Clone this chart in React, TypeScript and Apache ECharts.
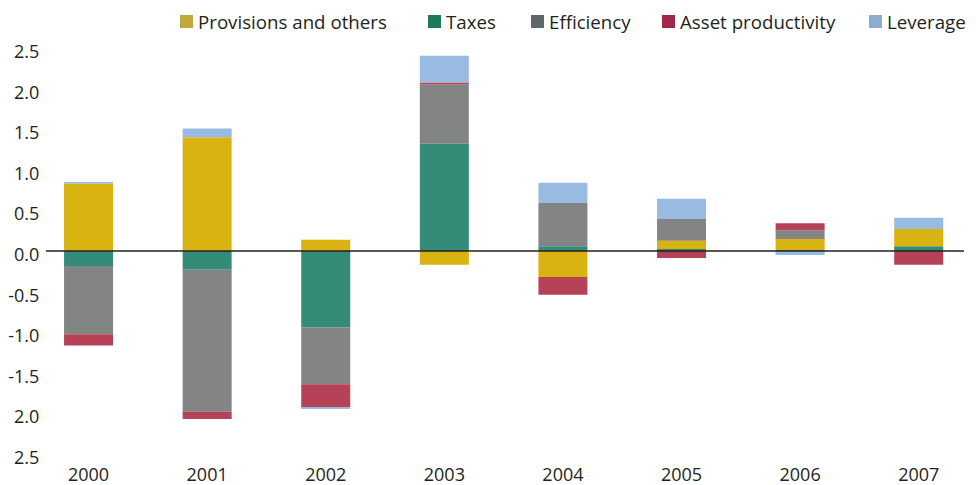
import React, { useEffect, useRef } from "react";
import * as echarts from "echarts";

const years = ["2000", "2001", "2002", "2003", "2004", "2005", "2006", "2007"];
const provisions = [0.83, 1.4, 0.14, -0.17, -0.32, 0.1, 0.135, 0.21];
const taxes = [-0.185, -0.23, -0.94, 1.32, 0.06, 0.025, 0.012, 0.06];
const efficiency = [-0.84, -1.75, -0.7, 0.73, 0.53, 0.27, 0.11, 0];
const assetProductivity = [-0.14, -0.09, -0.28, 0.025, -0.22, -0.086, 0.086, -0.17];
const leverage = [0.02, 0.11, -0.025, 0.33, 0.25, 0.25, -0.05, 0.14];

const FONT = "'Open Sans', sans-serif";
const TXT = "#231F20";

export default function App() {
  const ref = useRef<HTMLDivElement>(null);
  useEffect(() => {
    if (!ref.current) return;
    const chart = echarts.init(ref.current, undefined, { renderer: "svg" });
    const mk = (name: string, data: number[], color: string) => ({
      name,
      type: "bar",
      stack: "total",
      data,
      barWidth: 49,
      itemStyle: { color },
    });
    const legendItem = (name: string, left: number, color: string) => ({
      data: [{ name, itemStyle: { color } }],
      left,
      top: 12,
      padding: 0,
      itemWidth: 13,
      itemHeight: 13,
      icon: "rect",
      selectedMode: false,
      textStyle: { fontFamily: FONT, fontSize: 18.7, color: TXT, padding: [0, 0, 0, 0] },
    });
    chart.setOption({
      animation: false,
      textStyle: { fontFamily: FONT },
      grid: { left: 29.25, right: 0, top: 48, bottom: 31, containLabel: false },
      legend: [
        legendItem("Provisions and others", 180, "#C3A83B"),
        legendItem("Taxes", 428, "#1F7A5C"),
        legendItem("Efficiency", 531, "#5F6868"),
        legendItem("Asset productivity", 662, "#A0284A"),
        legendItem("Leverage", 869, "#8DADD0"),
      ],
      xAxis: {
        type: "category",
        data: years,
        axisLine: { show: false },
        axisTick: { show: false },
        position: "bottom",
        axisLabel: { fontSize: 18, color: TXT, margin: 11, lineHeight: 18, fontFamily: FONT },
      },
      yAxis: {
        type: "value",
        min: -2.5,
        max: 2.5,
        interval: 0.5,
        offset: -12,
        splitLine: { show: false },
        axisLine: { show: false },
        axisTick: { show: false },
        axisLabel: {
          fontSize: 18,
          color: TXT,
          margin: 2,
          fontFamily: FONT,
          verticalAlign: "top",
          lineHeight: 6,
          formatter: (v: number) => (v <= -2 ? Math.abs(v).toFixed(1) : v.toFixed(1)),
        },
      },
      series: [
        mk("Taxes", taxes, "#348C78"),
        mk("Provisions and others", provisions, "#D9B311"),
        mk("Efficiency", efficiency, "#828583"),
        mk("Asset productivity", assetProductivity, "#B54257"),
        mk("Leverage", leverage, "#9ABBE1"),
      ],
    });
    const y0 = chart.convertToPixel({ yAxisIndex: 0 }, 0) as number;
    chart.setOption({
      graphic: [
        {
          type: "line",
          shape: { x1: 46, y1: y0, x2: 964, y2: y0 },
          style: { stroke: TXT, lineWidth: 1.3 },
          z: 100,
        },
      ],
    });
    return () => chart.dispose();
  }, []);
  return <div ref={ref} style={{ width: 978, height: 485, position: "absolute", left: 0, top: 0 }} />;
}
